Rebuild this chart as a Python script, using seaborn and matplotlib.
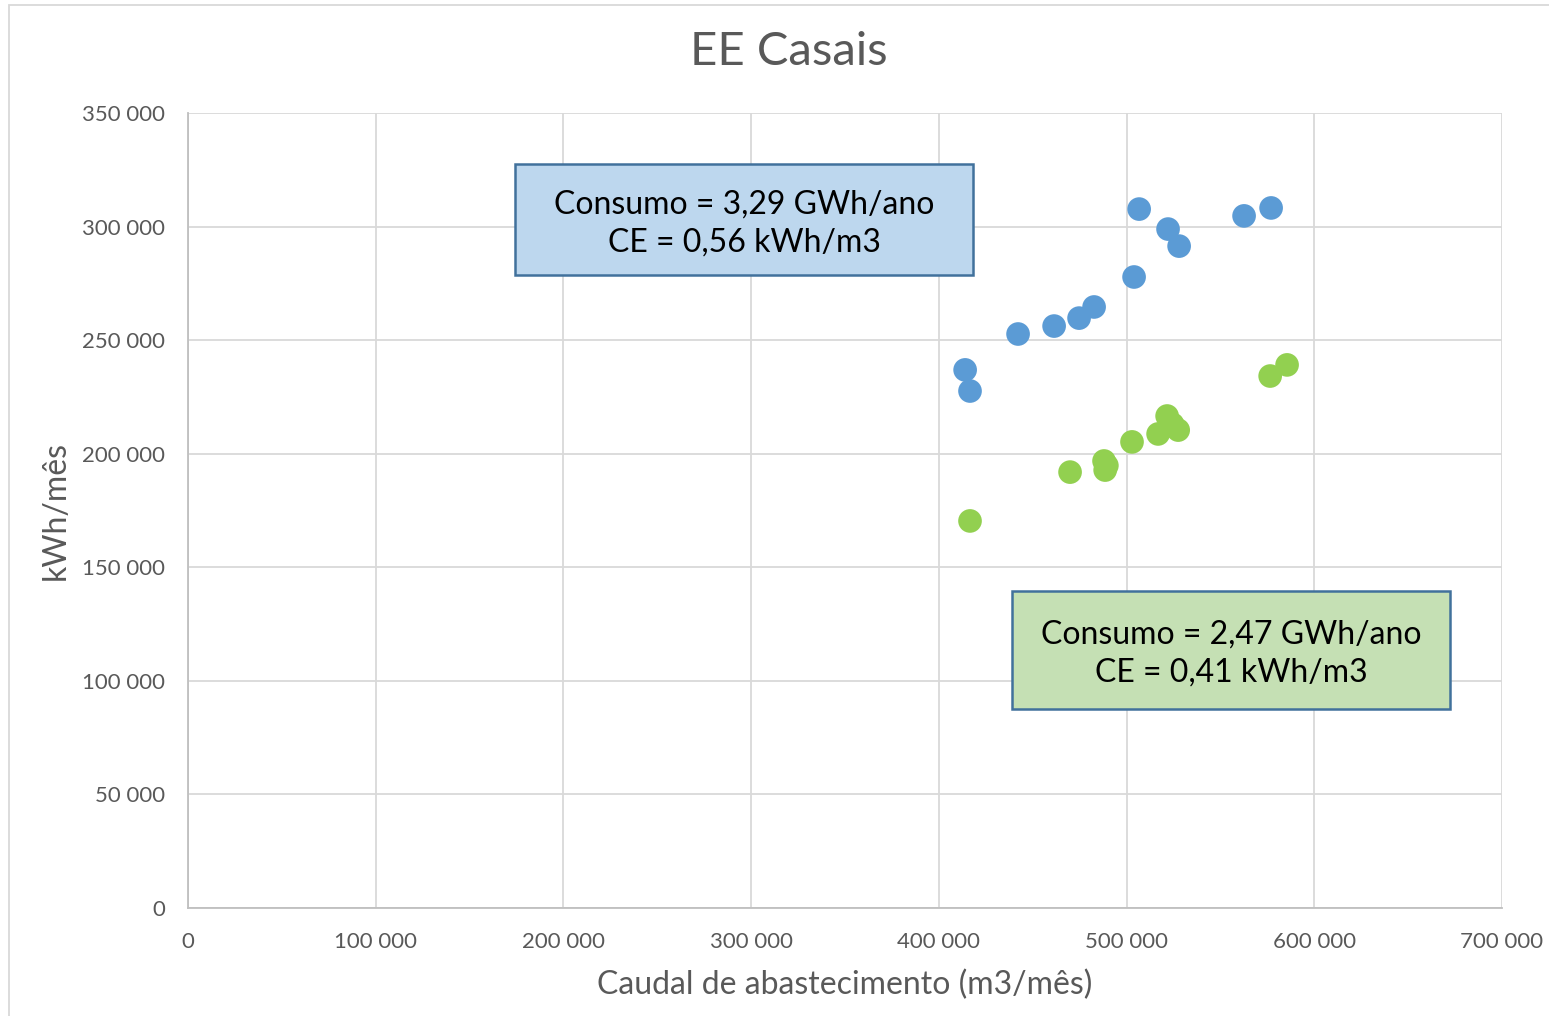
import matplotlib
matplotlib.use("Agg")
import matplotlib.pyplot as plt
import seaborn as sns
import pandas as pd
from matplotlib.patches import Rectangle
from matplotlib.ticker import FuncFormatter, MultipleLocator

# Data
blue_x = [414000, 416600, 442200, 461400, 474700, 482700, 504000, 506700, 522100, 528000, 562600, 577000]
blue_y = [236900, 227600, 252700, 256200, 259700, 264600, 277800, 307700, 298900, 291400, 304700, 308200]
green_x = [416600, 469900, 488000, 488600, 489500, 502900, 516800, 521600, 524500, 527500, 576500, 585500]
green_y = [170400, 191900, 196800, 192800, 194800, 205200, 208700, 216600, 213000, 210400, 234200, 239100]

title = "EE Casais"
xlabel = "Caudal de abastecimento (m3/mês)"
ylabel = "kWh/mês"
box_blue_text = "Consumo = 3,29 GWh/ano\nCE = 0,56 kWh/m3"
box_green_text = "Consumo = 2,47 GWh/ano\nCE = 0,41 kWh/m3"

sns.set_theme(style="white")
plt.rcParams['font.family'] = ['Lato', 'DejaVu Sans']

df = pd.concat([
    pd.DataFrame({"x": blue_x, "y": blue_y, "s": "Atual"}),
    pd.DataFrame({"x": green_x, "y": green_y, "s": "Novo"}),
])

fig = plt.figure(figsize=(15.49, 10.16), dpi=100)
ax = fig.add_axes([188/1549, 1-908/1016, 1314/1549, 795/1016])

sns.scatterplot(data=df, x="x", y="y", hue="s", palette={"Atual": "#5B9BD5", "Novo": "#92D050"},
                s=290, linewidth=0, alpha=1, legend=False, ax=ax, zorder=3)

ax.set_xlim(0, 700000)
ax.set_ylim(0, 350000)
ax.xaxis.set_major_locator(MultipleLocator(100000))
ax.yaxis.set_major_locator(MultipleLocator(50000))
fmt = FuncFormatter(lambda v, p: f"{int(v):,}".replace(",", " "))
ax.xaxis.set_major_formatter(fmt)
ax.yaxis.set_major_formatter(fmt)
ax.grid(True, color="#D9D9D9", linewidth=1.3)
ax.set_axisbelow(True)
for side in ["top", "right"]:
    ax.spines[side].set_visible(False)
for side in ["left", "bottom"]:
    ax.spines[side].set_color("#BFBFBF")
    ax.spines[side].set_linewidth(1.3)
ax.tick_params(axis="both", length=0, labelsize=16, colors="#595959")
ax.tick_params(axis="x", pad=17)
ax.tick_params(axis="y", pad=16.5)

ax.set_xlabel(xlabel, fontsize=23, color="#595959", labelpad=13)
ax.set_ylabel(ylabel, fontsize=23, color="#595959", labelpad=8)
fig.text(789/1549, 1-52/1016, title, ha="center", va="center", fontsize=34, color="#595959")

def box(x0, x1, y0, y1, fc, ec, text):
    r = Rectangle((x0, y0), x1-x0, y1-y0, transform=ax.transAxes, facecolor=fc,
                  edgecolor=ec, linewidth=1.8, zorder=5)
    ax.add_patch(r)
    ax.text((x0+x1)/2, (y0+y1)/2 - 0.005, text, transform=ax.transAxes, ha="center", va="center",
            fontsize=23, color="black", linespacing=1.33, zorder=6)

box((515-188)/1314, (973-188)/1314, (908-275)/795, (908-164)/795, "#BDD7EE", "#41719C", box_blue_text)
box((1012-188)/1314, (1450-188)/1314, (908-709)/795, (908-591)/795, "#C5E0B4", "#41719C", box_green_text)

# outer chart border
fig.patches.append(Rectangle((9/1549, -0.01), 1.1, 1-5/1016+0.01, transform=fig.transFigure,
                             fill=False, edgecolor="#D9D9D9", linewidth=1.3))

fig.savefig("out.png", dpi=100)
